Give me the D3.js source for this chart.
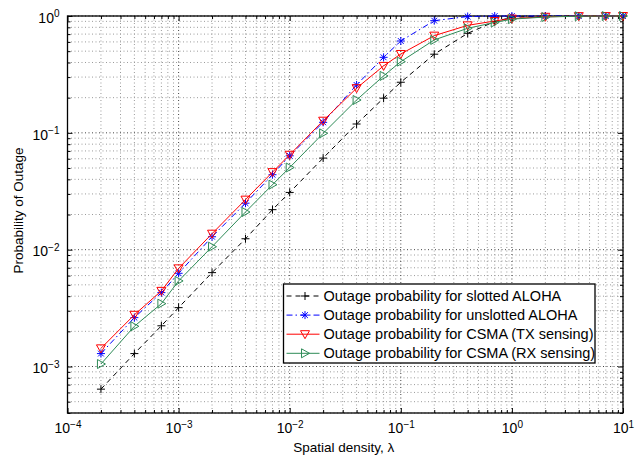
<!DOCTYPE html>
<html>
<head>
<meta charset="utf-8">
<script src="https://cdn.jsdelivr.net/npm/d3@7"></script>
<style>
  body { margin: 0; background: #fff; }
  text { font-family: "Liberation Sans", Arial, sans-serif; fill: #000; }
</style>
</head>
<body>
<div id="chart"></div>
<script>
// spatial density values (x)
const lambda = [2e-4, 4e-4, 7e-4, 1e-3, 2e-3, 4e-3, 7e-3, 1e-2, 2e-2, 4e-2, 7e-2, 1e-1, 2e-1, 4e-1, 7e-1, 1, 2, 4, 7, 10];

// outage probability per scheme
const slotted = [6.4e-4, 1.29e-3, 2.23e-3, 3.19e-3, 6.36e-3, 1.24e-2, 2.2e-2, 3.09e-2, 6.08e-2, 0.119, 0.198, 0.271, 0.471, 0.711, 0.895, 0.975, 0.998, 1, 1, 1];
const unslotted = [1.29e-3, 2.62e-3, 4.29e-3, 6.28e-3, 1.29e-2, 2.5e-2, 4.38e-2, 6.36e-2, 0.123, 0.257, 0.443, 0.611, 0.912, 0.99, 0.999, 1, 1, 1, 1, 1];
const csmaTx = [1.43e-3, 2.77e-3, 4.44e-3, 6.92e-3, 1.37e-2, 2.68e-2, 4.61e-2, 6.49e-2, 0.127, 0.241, 0.374, 0.473, 0.679, 0.832, 0.906, 0.95, 0.985, 0.997, 0.999, 1];
const csmaRx = [1.05e-3, 2.21e-3, 3.45e-3, 5.4e-3, 1.06e-2, 2.1e-2, 3.6e-2, 5.05e-2, 0.099, 0.191, 0.307, 0.407, 0.624, 0.785, 0.88, 0.94, 0.98, 0.996, 0.999, 1];

const seriesNames = [
  "Outage probability for slotted ALOHA",
  "Outage probability for unslotted ALOHA",
  "Outage probability for CSMA (TX sensing)",
  "Outage probability for CSMA (RX sensing)"
];

const xTickExp = [-4, -3, -2, -1, 0, 1];
const yTickExp = [-3, -2, -1, 0];

const W = 638, H = 457;
const margin = { top: 16, right: 15, bottom: 44, left: 67.5 };
const width = W - margin.left - margin.right;
const height = H - margin.top - margin.bottom;

const svg = d3.select('#chart')
  .append('svg')
  .attr('width', W)
  .attr('height', H)
  .append('g')
  .attr('transform', `translate(${margin.left}, ${margin.top})`);

const xScale = d3.scaleLog().domain([1e-4, 10]).range([0, width]);
const yScale = d3.scaleLog().domain([4e-4, 1]).range([height, 0]);

// minor tick positions (2..9 in each decade)
const xMinor = [];
for (let e = -4; e < 1; e++) for (let m = 2; m <= 9; m++) xMinor.push(m * Math.pow(10, e));
const yMinor = [];
for (let e = -4; e < 0; e++) for (let m = 2; m <= 9; m++) {
  const v = m * Math.pow(10, e);
  if (v >= 4e-4) yMinor.push(v);
}
const xMajor = xTickExp.map(e => Math.pow(10, e));
const yMajor = yTickExp.map(e => Math.pow(10, e));

// grid
const grid = svg.append('g').attr('id', 'grid');
grid.selectAll('.gxm').data(xMinor).enter().append('line')
  .attr('x1', d => xScale(d)).attr('x2', d => xScale(d))
  .attr('y1', 0).attr('y2', height)
  .attr('stroke', '#9a9a9a').attr('stroke-width', 1).attr('stroke-dasharray', '1,2.5');
grid.selectAll('.gym').data(yMinor).enter().append('line')
  .attr('y1', d => yScale(d)).attr('y2', d => yScale(d))
  .attr('x1', 0).attr('x2', width)
  .attr('stroke', '#9a9a9a').attr('stroke-width', 1).attr('stroke-dasharray', '1,2.5');
grid.selectAll('.gxM').data(xMajor).enter().append('line')
  .attr('x1', d => xScale(d)).attr('x2', d => xScale(d))
  .attr('y1', 0).attr('y2', height)
  .attr('stroke', '#444').attr('stroke-width', 1).attr('stroke-dasharray', '1,2.5');
grid.selectAll('.gyM').data(yMajor).enter().append('line')
  .attr('y1', d => yScale(d)).attr('y2', d => yScale(d))
  .attr('x1', 0).attr('x2', width)
  .attr('stroke', '#444').attr('stroke-width', 1).attr('stroke-dasharray', '1,2.5');

// axes (ticks inward, box on all four sides)
const axisGroup = svg.append('g').attr('id', 'axisGroup');

function powLabel(sel) {
  sel.selectAll('.tick text').each(function (d) {
    const t = d3.select(this);
    t.text('');
    t.append('tspan').text('10');
    t.append('tspan').attr('dy', '-0.55em').attr('font-size', '10px').text(String(Math.round(Math.log10(d))).replace('-', '\u2212'));
  });
}

const xAxisB = axisGroup.append('g').attr('transform', `translate(0, ${height})`)
  .call(d3.axisBottom(xScale).tickValues(xMajor).tickSizeInner(-5).tickSizeOuter(0).tickPadding(13));
powLabel(xAxisB);
axisGroup.append('g').attr('transform', `translate(0, ${height})`)
  .call(d3.axisBottom(xScale).tickValues(xMinor).tickSizeInner(-3).tickSizeOuter(0).tickFormat(''));
axisGroup.append('g')
  .call(d3.axisTop(xScale).tickValues(xMajor).tickSizeInner(-5).tickSizeOuter(0).tickFormat(''));
axisGroup.append('g')
  .call(d3.axisTop(xScale).tickValues(xMinor).tickSizeInner(-3).tickSizeOuter(0).tickFormat(''));

const yAxisL = axisGroup.append('g')
  .call(d3.axisLeft(yScale).tickValues(yMajor).tickSizeInner(-5).tickSizeOuter(0).tickPadding(8));
powLabel(yAxisL);
axisGroup.append('g')
  .call(d3.axisLeft(yScale).tickValues(yMinor).tickSizeInner(-3).tickSizeOuter(0).tickFormat(''));
axisGroup.append('g').attr('transform', `translate(${width}, 0)`)
  .call(d3.axisRight(yScale).tickValues(yMajor).tickSizeInner(-5).tickSizeOuter(0).tickFormat(''));
axisGroup.append('g').attr('transform', `translate(${width}, 0)`)
  .call(d3.axisRight(yScale).tickValues(yMinor).tickSizeInner(-3).tickSizeOuter(0).tickFormat(''));

axisGroup.selectAll('.domain').remove();
axisGroup.selectAll('.tick line').attr('stroke', '#000');
axisGroup.selectAll('.tick text').attr('font-size', '14px').attr('font-family', '"Liberation Sans", Arial, sans-serif');
xAxisB.selectAll('.tick text').attr('dy', '0.5em');
yAxisL.selectAll('.tick text').attr('dy', '0.45em');

svg.append('rect')
  .attr('width', width).attr('height', height)
  .attr('fill', 'none').attr('stroke', '#000').attr('stroke-width', 1.3);

// axis titles
svg.append('text')
  .attr('x', width / 2 - 1.5).attr('y', height + 38.5)
  .attr('text-anchor', 'middle').attr('font-size', '13.5px')
  .text('Spatial density, \u03bb');
svg.append('text')
  .attr('transform', `translate(${-45}, ${height / 2 - 4}) rotate(-90)`)
  .attr('text-anchor', 'middle').attr('font-size', '13.5px')
  .text('Probability of Outage');

// markers
function drawMarker(g, type, color) {
  const s = 4;
  if (type === 'plus') {
    g.append('path').attr('d', `M${-s},0H${s}M0,${-s}V${s}`).attr('stroke', color).attr('fill', 'none');
  } else if (type === 'star') {
    const d = s * 0.72;
    g.append('path').attr('d', `M${-s},0H${s}M0,${-s}V${s}M${-d},${-d}L${d},${d}M${-d},${d}L${d},${-d}`)
      .attr('stroke', color).attr('fill', 'none');
  } else if (type === 'down') {
    g.append('path').attr('d', `M${-s - 0.5},${-s + 0.5}L${s + 0.5},${-s + 0.5}L0,${s + 0.5}Z`)
      .attr('stroke', color).attr('fill', 'none');
  } else if (type === 'right') {
    g.append('path').attr('d', `M${-s + 0.5},${-s - 0.5}L${-s + 0.5},${s + 0.5}L${s + 0.5},0Z`)
      .attr('stroke', color).attr('fill', 'none');
  }
}

const series = [
  { name: seriesNames[0], values: slotted, color: '#000000', dash: '5,4', marker: 'plus' },
  { name: seriesNames[1], values: unslotted, color: '#0000ff', dash: '6,3,1.5,3', marker: 'star' },
  { name: seriesNames[2], values: csmaTx, color: '#ff0000', dash: null, marker: 'down' },
  { name: seriesNames[3], values: csmaRx, color: '#2e8b57', dash: null, marker: 'right' }
];

const elementGroup = svg.append('g').attr('id', 'elementGroup');
const line = d3.line()
  .x(d => xScale(d[0]))
  .y(d => yScale(d[1]));

series.forEach(s => {
  const pts = lambda.map((x, i) => [x, s.values[i]]);
  elementGroup.append('path')
    .datum(pts)
    .attr('fill', 'none')
    .attr('stroke', s.color)
    .attr('stroke-width', 1)
    .attr('stroke-dasharray', s.dash)
    .attr('d', line);
  pts.forEach(p => {
    const g = elementGroup.append('g')
      .attr('transform', `translate(${xScale(p[0])}, ${yScale(p[1])})`);
    drawMarker(g, s.marker, s.color);
  });
});

// legend
const legend = svg.append('g').attr('transform', `translate(${283.5 - margin.left}, ${284 - margin.top})`);
legend.append('rect')
  .attr('width', 311.5).attr('height', 79)
  .attr('fill', '#fff').attr('stroke', '#000').attr('stroke-width', 1.3);
series.forEach((s, i) => {
  const yy = 12 + i * 19.1;
  legend.append('line')
    .attr('x1', 3).attr('x2', 36).attr('y1', yy).attr('y2', yy)
    .attr('stroke', s.color).attr('stroke-dasharray', s.dash);
  const g = legend.append('g').attr('transform', `translate(21.5, ${yy})`);
  drawMarker(g, s.marker, s.color);
  legend.append('text')
    .attr('x', 40).attr('y', yy + 5)
    .attr('font-size', '14.5px')
    .text(s.name);
});
</script>
</body>
</html>
